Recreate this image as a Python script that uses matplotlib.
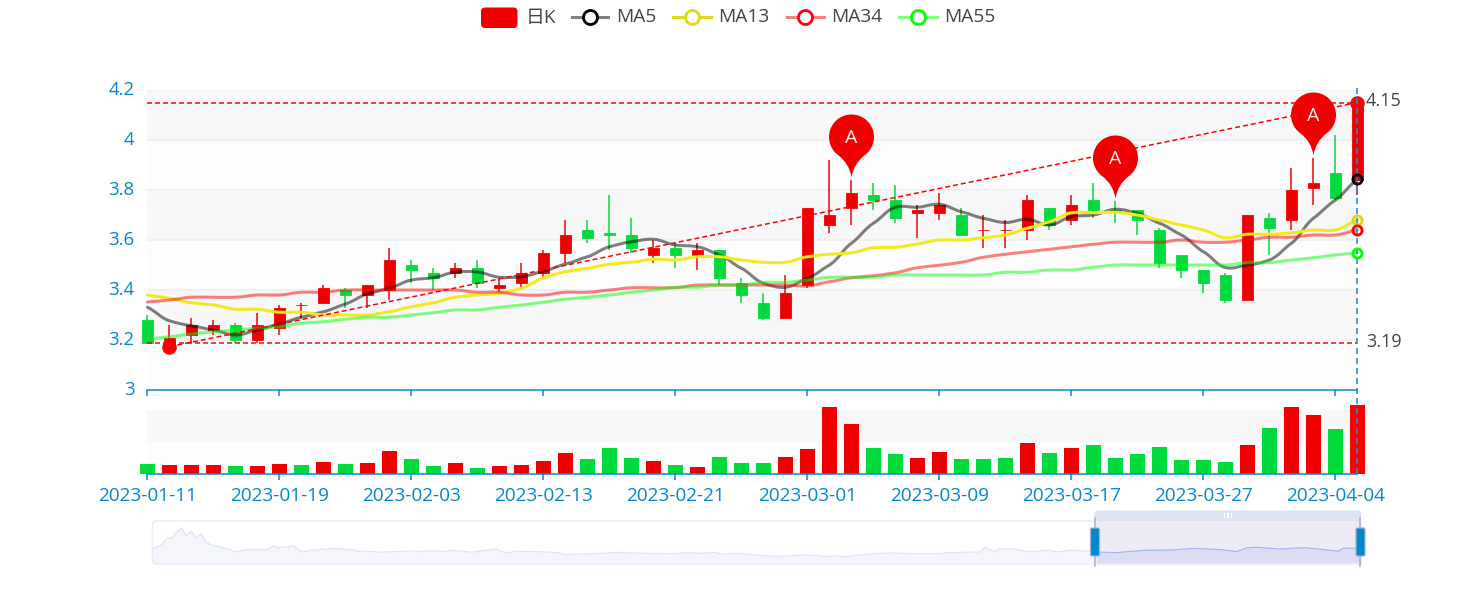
import numpy as np
import matplotlib
matplotlib.use("Agg")
import matplotlib.pyplot as plt
from matplotlib.path import Path
from matplotlib.patches import FancyBboxPatch, Rectangle, PathPatch
from matplotlib.lines import Line2D

plt.rcParams['font.family'] = ['Open Sans', 'Noto Sans CJK SC', 'DejaVu Sans']
plt.rcParams['lines.scale_dashes'] = False

dates = ["2023-01-11","2023-01-12","2023-01-13","2023-01-16","2023-01-17","2023-01-18","2023-01-19",
         "2023-01-20","2023-01-30","2023-01-31","2023-02-01","2023-02-02","2023-02-03",
         "2023-02-06","2023-02-07","2023-02-08","2023-02-09","2023-02-10","2023-02-13",
         "2023-02-14","2023-02-15","2023-02-16","2023-02-17","2023-02-20","2023-02-21",
         "2023-02-22","2023-02-23","2023-02-24","2023-02-27","2023-02-28","2023-03-01",
         "2023-03-02","2023-03-03","2023-03-06","2023-03-07","2023-03-08","2023-03-09",
         "2023-03-10","2023-03-13","2023-03-14","2023-03-15","2023-03-16","2023-03-17",
         "2023-03-20","2023-03-21","2023-03-22","2023-03-23","2023-03-24","2023-03-27",
         "2023-03-28","2023-03-29","2023-03-30","2023-03-31","2023-04-03","2023-04-04","2023-04-06"]

opens = [3.28,3.18,3.22,3.24,3.26,3.20,3.25,3.34,3.35,3.40,3.38,3.40,3.50,3.47,3.47,3.49,3.41,3.43,3.47,
         3.55,3.64,3.63,3.62,3.54,3.57,3.54,3.56,3.43,3.35,3.29,3.42,3.66,3.73,3.78,3.76,3.71,3.71,
         3.70,3.64,3.64,3.64,3.73,3.68,3.76,3.72,3.72,3.64,3.54,3.48,3.46,3.36,3.69,3.68,3.81,3.87,3.84]
closes = [3.19,3.21,3.26,3.26,3.20,3.26,3.33,3.34,3.41,3.38,3.42,3.52,3.48,3.45,3.49,3.43,3.42,3.47,3.55,
          3.62,3.61,3.62,3.57,3.57,3.54,3.56,3.45,3.38,3.29,3.39,3.73,3.70,3.79,3.76,3.69,3.72,3.74,
          3.62,3.64,3.64,3.76,3.66,3.74,3.72,3.715,3.68,3.51,3.48,3.43,3.36,3.70,3.65,3.80,3.83,3.77,4.15]
lows = [3.19,3.17,3.19,3.22,3.19,3.19,3.22,3.29,3.35,3.33,3.33,3.36,3.43,3.40,3.45,3.41,3.39,3.40,3.45,
        3.51,3.59,3.56,3.55,3.51,3.49,3.48,3.42,3.35,3.28,3.29,3.41,3.63,3.66,3.72,3.67,3.61,3.68,
        3.62,3.57,3.57,3.60,3.64,3.66,3.69,3.67,3.62,3.49,3.45,3.39,3.35,3.36,3.54,3.64,3.74,3.76,3.78]
highs = [3.30,3.26,3.29,3.28,3.27,3.31,3.34,3.35,3.42,3.41,3.42,3.57,3.52,3.49,3.51,3.52,3.45,3.51,3.56,
         3.68,3.68,3.78,3.69,3.60,3.59,3.59,3.56,3.45,3.39,3.46,3.73,3.92,3.84,3.83,3.82,3.74,3.79,
         3.73,3.70,3.68,3.78,3.73,3.78,3.83,3.755,3.72,3.65,3.54,3.48,3.47,3.70,3.71,3.89,3.93,4.02,4.15]

ma5 = [3.331,3.277,3.257,3.24,3.22,3.24,3.264,3.291,3.313,3.344,3.384,3.407,3.44,3.449,3.472,3.472,3.451,3.453,3.475,
       3.504,3.533,3.573,3.593,3.603,3.58,3.573,3.54,3.487,3.427,3.411,3.447,3.50,3.587,3.667,3.731,3.731,3.743,
       3.713,3.687,3.67,3.683,3.66,3.693,3.70,3.723,3.707,3.667,3.62,3.553,3.49,3.50,3.52,3.587,3.687,3.76,3.843]
ma13 = [3.38,3.367,3.349,3.34,3.323,3.323,3.311,3.311,3.30,3.30,3.30,3.313,3.333,3.349,3.371,3.38,3.387,3.407,3.448,
        3.473,3.487,3.503,3.511,3.523,3.52,3.533,3.533,3.52,3.511,3.511,3.533,3.543,3.549,3.569,3.571,3.584,3.60,
        3.60,3.609,3.62,3.647,3.673,3.709,3.709,3.711,3.70,3.68,3.66,3.64,3.609,3.623,3.623,3.629,3.64,3.64,3.68]
ma34 = [3.352,3.36,3.371,3.371,3.371,3.38,3.38,3.391,3.391,3.40,3.40,3.40,3.40,3.40,3.40,3.391,3.391,3.38,3.38,
        3.391,3.391,3.40,3.409,3.409,3.409,3.42,3.42,3.42,3.42,3.42,3.416,3.433,3.449,3.457,3.469,3.489,3.499,
        3.511,3.531,3.543,3.553,3.563,3.573,3.583,3.591,3.591,3.591,3.60,3.591,3.591,3.60,3.611,3.611,3.62,3.62,3.64]
ma55 = [3.203,3.213,3.224,3.233,3.24,3.247,3.253,3.267,3.273,3.283,3.291,3.291,3.30,3.309,3.32,3.32,3.331,3.34,3.351,
        3.363,3.371,3.38,3.391,3.40,3.411,3.411,3.42,3.42,3.431,3.431,3.44,3.451,3.451,3.451,3.46,3.46,3.46,
        3.46,3.46,3.471,3.471,3.48,3.48,3.491,3.50,3.50,3.50,3.50,3.50,3.50,3.509,3.509,3.52,3.529,3.54,3.549]

volumes = [30,26,26,26,23,24,31,26,35,30,34,70,44,24,32,19,24,28,38,62,44,78,47,38,27,22,52,32,32,
           50,74,200,151,77,59,47,65,45,45,47,92,62,77,87,48,59,81,42,41,37,86,139,201,176,135,206]

slider_day = [0,2,3,4,5,6,7,8,9,10,11,12,14,16,17,19,21,23,24,25,26,28,29,30,31,33,34,35,36,37,39,40,41,42,45,47,51,54,56,57,61,
              62,66,68,71,73,75,80,84,85,89,91,96,101,108,110,114,116,118,120,125,127,130,134,137,139,141,143,147,152,159,
              163,164,171,172,174,175,178,180,182,185,187,190,195,199,205,211,215,221,224,226,228,233,238,241,245,246,248,249.7]
slider_vol = [14.7,19.7,25.7,26.3,32.3,35.7,28.3,33,25.7,30.7,22.3,19.3,17,14.3,12.3,14,14.7,14,14.7,18,16.3,17.3,18.3,14.7,12,14,14,15.3,14.3,15.7,15.3,14.3,14.7,13,12.7,11.7,12.7,13,12.3,13.3,12.7,
              13.7,11.7,13.3,15,11,12.7,12.3,11.3,9.3,10.3,10,11.7,10.7,10.3,11.3,10.7,11.7,9.7,10.7,9,8,7.7,9,8.7,7.3,8.3,7.3,9.7,11,10.3,
              10.3,11.3,12,16.7,12.3,15,15,13,12.3,13.7,12,14,12,11.3,13.7,14,15.7,14.3,12.3,16,16.7,15,16.3,15,12.7,15.7,15.7,17]

min_point = (1, 3.173)
max_point = (55, 4.15)
pin_days = [32, 44, 53]
pin_label = "A"
legend_labels = ["日K", "MA5", "MA13", "MA34", "MA55"]

W, H = 1476, 600
RED, GREEN = '#ee0000', '#00da3c'
BLUE = '#0288d1'
TXT = '#444444'
px = 72 / 100.0  # one pixel in points


def axes_px(fig, left, top, right, bottom):
    return fig.add_axes([left / W, 1 - bottom / H, (right - left) / W, (bottom - top) / H])


def smooth_series(axis, xs, ys, **kw):
    """Draw a series as a Bezier curve through its own values (the reference uses a smoothed line)."""
    xs, ys = np.asarray(xs, float), np.asarray(ys, float)
    slope = np.gradient(ys, xs)
    verts, codes = [(xs[0], ys[0])], [Path.MOVETO]
    for i in range(len(xs) - 1):
        d = xs[i + 1] - xs[i]
        verts += [(xs[i] + d * 0.4, ys[i] + slope[i] * d * 0.3),
                  (xs[i + 1] - d * 0.4, ys[i + 1] - slope[i + 1] * d * 0.3),
                  (xs[i + 1], ys[i + 1])]
        codes += [Path.CURVE4] * 3
    axis.add_patch(PathPatch(Path(verts, codes), fc='none', capstyle='round', joinstyle='round',
                             clip_on=False, **kw))


fig = plt.figure(figsize=(W / 100, H / 100), dpi=100, facecolor='white')

x = np.arange(len(dates))
o, c, lo, hi = map(np.array, (opens, closes, lows, highs))
up = c >= o
cand_col = [RED if u else GREEN for u in up]
L, R = 147.4, 1357.4

# ---------- volume panel
vax = axes_px(fig, L, 410, R, 474)
vax.set_xlim(0, 55)
vax.set_ylim(0, 192)
vax.axhspan(96, 192, color='#f8f8f8', lw=0, zorder=0)
vax.axhspan(0, 96, color='#fdfdfd', lw=0, zorder=0)
vol_col = [RED if cc > oo else GREEN for oo, cc in zip(opens, closes)]
vol_col[-1] = '#ff0000'
vax.bar(x, volumes, width=0.68, color=vol_col, lw=0, clip_on=False, zorder=2)
for s in ('top', 'left', 'right'):
    vax.spines[s].set_visible(False)
vax.spines['bottom'].set_color(BLUE)
vax.spines['bottom'].set_linewidth(1.5 * px)
vax.spines['bottom'].set_zorder(3)
vax.set_yticks([])
vax.set_xticks(x[::6])
vax.set_xticklabels(dates[::6])
vax.tick_params(axis='x', colors=BLUE, length=6 * px, width=1.5 * px, labelsize=13.7, pad=5)
vax.patch.set_visible(False)

# ---------- main candlestick panel
ax = axes_px(fig, L, 90, R, 390)
ax.set_xlim(0, 55)
ax.set_ylim(3, 4.2)
ax.set_zorder(5)
ax.patch.set_visible(False)
levels = [3, 3.2, 3.4, 3.6, 3.8, 4, 4.2]
level_labels = ["3", "3.2", "3.4", "3.6", "3.8", "4", "4.2"]
for k in range(6):
    ax.axhspan(levels[k], levels[k + 1], color='#f8f8f8' if k % 2 else '#fdfdfd', lw=0, zorder=0)
for lv in levels[1:]:
    ax.axhline(lv, color='#eeeeee', lw=1.5 * px, zorder=1)

ax.vlines(x, lo, hi, colors=cand_col, lw=1.5 * px, zorder=3, clip_on=False)
ax.bar(x, np.abs(c - o), bottom=np.minimum(o, c), width=0.5, color=cand_col,
       edgecolor=cand_col, lw=0.8 * px, clip_on=False, zorder=3)

smooth_series(ax, x, ma5, ec='#000000', alpha=0.5, lw=3 * px, zorder=4)
smooth_series(ax, x, ma13, ec='#f2ea1c', lw=3 * px, zorder=4)
smooth_series(ax, x, ma34, ec='#ff0000', alpha=0.5, lw=3 * px, zorder=4)
smooth_series(ax, x, ma55, ec='#00ff00', alpha=0.5, lw=3 * px, zorder=4)

# mark lines
dash = (0, (5 * px, 3 * px))
ax.plot([0, 55], [max_point[1]] * 2, color='#ff0000', lw=1.5 * px, ls=dash, zorder=5)
ax.plot([0, 55], [3.19, 3.19], color='#ff0000', lw=1.5 * px, ls=dash, zorder=5)
ax.plot([min_point[0], max_point[0]], [min_point[1], max_point[1]], color='#ff0000', lw=1.5 * px, ls=dash, zorder=5)
ax.plot([min_point[0], max_point[0]], [min_point[1], max_point[1]], 'o', color='#ff0000', ms=14.5 * px, mew=0, zorder=6, clip_on=False)
for val, lab, dy in ((4.15, "4.15", 2), (3.19, "3.19", 1)):
    ax.annotate(lab, xy=(55, val), xytext=(8.6 * px, dy * px), textcoords='offset points',
                ha='left', va='center', color=TXT, fontsize=13, annotation_clip=False, zorder=9)

# pin markers
cen, rad, tip = 43.5, 22.5, 3.0
arc = Path.arc(-55, 235)
av = arc.vertices * rad + np.array([0, cen])
verts = np.vstack([[[0, tip]], [[2, cen - 27]], av, [[-2, cen - 27]], [[0, tip]], [[0, tip]]])
codes = [Path.MOVETO, Path.CURVE3, Path.CURVE3] + list(arc.codes[1:]) + [Path.CURVE3, Path.CURVE3, Path.CLOSEPOLY]
pin = Path(verts, codes)
ms_pin = 2 * np.abs(verts).max() * px
ax.plot(x[pin_days], hi[pin_days], ls='none', marker=pin, ms=ms_pin, mfc='#ee0000', mew=0, zorder=6, clip_on=False)
for d in pin_days:
    ax.annotate(pin_label, xy=(d, hi[d]), xytext=(0, (cen - 1.5) * px), textcoords='offset points', ha='center',
                va='center', color='#f8f0f0', fontsize=14, annotation_clip=False, zorder=7)

# axis pointer, reaching from above the grid down to the volume baseline
ax.plot([55, 55], [4.21, 2.664], color='#1b8fd6', lw=1.6 * px, ls=(0, (6 * px, 4 * px)), clip_on=False, zorder=8)

# end-of-line rings
for ser, col in ((ma5, '#000000'), (ma13, '#dcd41c'), (ma34, '#ff0000'), (ma55, '#00ff00')):
    ax.plot([55], [ser[-1]], 'o', mfc='none', mec=col, mew=2.8 * px, ms=9.2 * px, zorder=9, clip_on=False)

for s in ('top', 'left', 'right'):
    ax.spines[s].set_visible(False)
ax.spines['bottom'].set_color(BLUE)
ax.spines['bottom'].set_linewidth(1.5 * px)
ax.set_xticks(x[::6])
ax.set_xticklabels([])
ax.tick_params(axis='x', colors=BLUE, length=6 * px, width=1.5 * px)
ax.set_yticks(levels)
ax.set_yticklabels(level_labels)
ax.tick_params(axis='y', length=0, labelcolor=BLUE, labelsize=13.4, pad=9.3)
for t in ax.get_yticklabels():
    t.set_verticalalignment('center')

# ---------- data-zoom slider
sax = axes_px(fig, 152.5, 521, 1361, 564)
sax.set_xlim(0, 249.7)
sax.set_ylim(0, 43)
sax.axis('off')
sd, sv = np.array(slider_day), np.array(slider_vol)
sax.axvspan(195, 249.7, color='#eeebf7', lw=0, zorder=1)
sax.fill_between(sd, 0, sv, color='#f5f6fb', lw=0, zorder=2)
sax.plot(sd, sv, color='#dfe4f5', lw=1.2 * px, zorder=3)
sel = sd >= 195
sax.fill_between(sd[sel], 0, sv[sel], color='#dcdcf4', lw=0, zorder=4)
sax.plot(sd[sel], sv[sel], color='#a8b6ee', lw=1.2 * px, zorder=5)

# ---------- overlay in pixel space: legend and slider furniture
ov = fig.add_axes([0, 0, 1, 1])
ov.set_xlim(0, W)
ov.set_ylim(H, 0)
ov.axis('off')
ov.set_zorder(6)
ov.patch.set_visible(False)


def rbox(l, t, r, b, rnd, **kw):
    ov.add_patch(FancyBboxPatch((l + rnd, t + rnd), r - l - 2 * rnd, b - t - 2 * rnd,
                                boxstyle=f"round,pad={rnd},rounding_size={rnd}", **kw))


rbox(152.5, 521, 1361, 564, 4, fc='none', ec='#ecedfa', lw=1.5 * px, zorder=2)
rbox(1094.5, 510.5, 1361, 521, 3, fc='#dde3f1', ec='none', zorder=3)
for gx in (1223.5, 1227, 1230.5):
    ov.add_patch(Rectangle((gx, 513), 1.8, 5, fc='white', ec='none', zorder=4))
for lx in (1095, 1360):
    ov.add_line(Line2D([lx, lx], [518, 566], color='#a3accb', lw=1.5 * px, zorder=4))
for l, r in ((1090.5, 1099.5), (1356, 1365)):
    rbox(l, 528, r, 556, 1.5, fc='#0288cc', ec='#a3b3d3', lw=1.2 * px, zorder=5)

# legend
rbox(481, 7.5, 517.5, 28, 4, fc=RED, ec='none', zorder=3)
ov.text(526, 17.5, legend_labels[0], color=TXT, fontsize=13.6, ha='left', va='center')
items = [(571.5, 608, 589.7, 616, '#808080', '#000000'),
         (673, 711, 692, 718.5, '#e0d81c', '#e0d81c'),
         (786.5, 823.5, 804.7, 831.5, '#ff8080', '#ff0000'),
         (899, 937, 918, 944, '#80ff80', '#00ff00')]
for lab, (l, r, cx, tx, lc, mc) in zip(legend_labels[1:], items):
    ov.add_line(Line2D([l, r], [16.5, 16.5], color=lc, lw=3 * px, zorder=3))
    ov.plot([cx], [16.5], 'o', mfc='white', mec=mc, mew=2.8 * px, ms=14 * px, zorder=4)
    ov.text(tx, 16.5, lab, color=TXT, fontsize=13.8, ha='left', va='center')
ov.set_xlim(0, W)
ov.set_ylim(H, 0)

fig.savefig('out.png', dpi=100, facecolor='white')
